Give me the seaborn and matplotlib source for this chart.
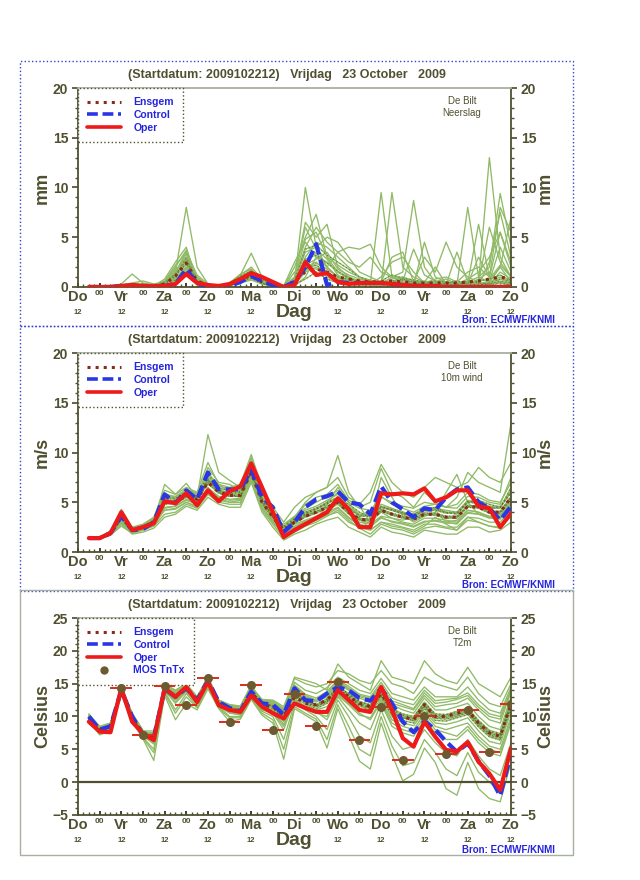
#!/usr/bin/env python3
"""
Pluimgrafiek De Bilt: ECMWF ensemble (neerslag, 10m wind, T2m), start 2009102212.
Schrijft out.png (640x880).
"""
import pandas as pd
import seaborn as sns
import matplotlib.pyplot as plt
import matplotlib.transforms as mtransforms
from matplotlib.patches import Rectangle
from matplotlib.lines import Line2D

sns.set_theme(style="white")
plt.rcParams['font.family'] = ['Liberation Sans', 'DejaVu Sans']

# ---- data ----
uren = list(range(6, 241, 6))
dagen = ['Do', 'Vr', 'Za', 'Zo', 'Ma', 'Di', 'Wo', 'Do', 'Vr', 'Za', 'Zo']

# Neerslag (mm)
neerslag_oper = [0, 0, 0, 0.1, 0.2, 0.1, 0.1, 0.1, 0.3, 1.3, 0.4, 0.2, 0.1, 0.3, 0.8, 1.4, 1.0, 0.5, 0.0, 0.2,
                 2.5, 1.2, 1.4, 0.5, 0.3, 0.4, 0.4, 0.4, 0.3, 0.2, 0.1, 0.1, 0.1, 0, 0, 0, 0, 0, 0, 0]
neerslag_control = [0, 0, 0, 0.1, 0.1, 0.1, 0, 0.1, 0.3, 1.8, 0.3, 0.1, 0, 0.1, 0.5, 1.1, 0.6, 0.2, 0, 0.5,
                    2.0, 4.3, 0.2, 0.5, 0.4, 0.4, 0.4, 0.4, 0.3, 0.2, 0.1, 0.1, 0.1, 0, 0, 0, 0, 0, 0, 0]
neerslag_ensgem = [0, 0, 0, 0.1, 0.2, 0.1, 0.1, 0.3, 1.1, 2.4, 0.6, 0.2, 0.1, 0.2, 0.7, 1.2, 0.5, 0.2, 0, 0.6,
                   1.5, 1.8, 1.5, 1.0, 0.8, 0.6, 0.5, 0.5, 0.6, 0.5, 0.4, 0.4, 0.4, 0.4, 0.4, 0.5, 0.6, 0.8, 1.0, 0.8]
neerslag_leden = [
    [0, 0, 0, 0.2, 0.1, 0, 0, 0.3, 1.5, 8.0, 2.0, 0.3, 0.1, 0.2, 0.5, 1.0, 0.4, 0.1, 0, 0.5, 10.0, 4.0, 2.0, 1.0, 0.5, 0.3, 0.2, 0.1, 0.5, 1.0, 0.3, 0.2, 0.1, 0.5, 0.3, 0.2, 0.8, 1.5, 0.4, 0.2],
    [0, 0, 0.1, 0.3, 1.3, 0.4, 0.2, 0.5, 2.0, 3.7, 1.0, 0.2, 0.1, 0.3, 1.0, 1.5, 0.8, 0.2, 0, 2.0, 5.0, 7.3, 3.0, 1.5, 0.8, 0.5, 0.4, 9.5, 1.0, 0.5, 0.3, 0.2, 0.4, 0.2, 0.1, 0.3, 0.5, 13.0, 3.0, 1.0],
    [0, 0, 0, 0.1, 0.3, 0.2, 0.1, 0.8, 2.5, 4.0, 0.5, 0.1, 0, 0.2, 1.2, 3.4, 1.0, 0.3, 0.1, 1.0, 6.5, 5.0, 6.3, 2.0, 1.0, 0.6, 0.2, 0.3, 9.5, 2.0, 1.0, 0.5, 2.0, 0.3, 0.2, 0.5, 1.0, 2.0, 9.4, 4.0],
    [0, 0, 0, 0, 0.2, 0.1, 0, 0.2, 1.0, 3.0, 0.8, 0.2, 0.1, 0.4, 1.3, 1.8, 0.6, 0.2, 0, 0.3, 3.0, 4.5, 4.0, 3.0, 2.0, 1.0, 0.5, 0.3, 1.0, 1.5, 8.7, 2.0, 0.5, 0.3, 0.2, 8.0, 1.0, 0.5, 2.0, 0.5],
    [0, 0, 0, 0.2, 0.4, 0.6, 0.3, 0.5, 1.8, 2.5, 0.6, 0.2, 0.1, 0.2, 0.7, 1.2, 0.5, 0.1, 0, 0.8, 4.0, 6.0, 4.5, 3.5, 4.0, 3.8, 4.3, 2.0, 1.0, 0.8, 0.5, 3.0, 1.5, 4.5, 2.0, 1.0, 0.5, 6.0, 2.5, 1.0],
    [0, 0, 0, 0.1, 0.2, 0.1, 0.1, 0.4, 1.2, 2.2, 0.4, 0.1, 0.1, 0.3, 1.0, 1.3, 0.5, 0.2, 0, 0.4, 2.5, 3.5, 2.0, 1.0, 0.5, 0.8, 0.5, 0.5, 0.8, 1.0, 0.6, 0.4, 0.8, 1.0, 0.5, 1.5, 2.0, 1.0, 8.0, 5.5],
    [0, 0, 0, 0.1, 0.1, 0.1, 0, 0.2, 0.8, 1.5, 0.3, 0.1, 0, 0.1, 0.5, 0.8, 0.3, 0.1, 0, 0.2, 1.5, 2.0, 1.0, 0.5, 0.3, 0.2, 0.3, 0.2, 0.1, 0.2, 0.4, 0.3, 0.2, 0.4, 0.5, 0.3, 0.2, 2.5, 7.5, 3.0],
    [0, 0, 0, 0.1, 0.2, 0.2, 0.1, 0.3, 1.5, 3.3, 0.7, 0.2, 0.1, 0.4, 1.2, 2.0, 0.8, 0.3, 0.1, 2.5, 4.5, 3.0, 2.5, 1.5, 1.0, 0.5, 0.3, 0.2, 0.3, 0.5, 0.3, 0.2, 0.5, 0.8, 0.3, 0.4, 6.3, 1.0, 0.5, 0.3],
    [0, 0, 0, 0, 0.1, 0, 0, 0.1, 0.6, 1.8, 0.2, 0.1, 0, 0.2, 0.6, 1.1, 0.4, 0.1, 0, 0.1, 1.0, 3.0, 2.0, 3.5, 2.5, 2.0, 3.0, 1.5, 1.0, 0.5, 0.3, 0.2, 0.1, 0.3, 0.5, 0.2, 0.1, 0.5, 1.0, 0.5],
    [0, 0, 0, 0.2, 0.3, 0.2, 0.1, 0.6, 2.2, 3.5, 1.2, 0.3, 0.1, 0.3, 0.8, 1.5, 0.6, 0.2, 0, 0.6, 3.5, 4.0, 5.0, 4.5, 3.0, 1.5, 1.0, 0.5, 3.0, 3.5, 0.5, 0.3, 0.2, 0.3, 0.4, 0.3, 3.0, 1.0, 5.5, 2.0],
    [0, 0, 0, 0.1, 0.1, 0.1, 0, 0.2, 0.7, 1.2, 0.3, 0.1, 0, 0.2, 0.5, 0.9, 0.3, 0.1, 0, 0.2, 0.8, 1.5, 0.8, 0.4, 0.3, 0.2, 0.2, 0.3, 0.2, 0.1, 0.2, 0.3, 0.2, 0.1, 0.2, 0.1, 0.3, 0.2, 0.4, 0.2],
    [0, 0, 0, 0.1, 0.2, 0.1, 0.1, 0.3, 1.0, 2.8, 0.5, 0.2, 0.1, 0.2, 0.9, 1.4, 0.5, 0.1, 0, 1.5, 2.0, 2.5, 1.5, 0.8, 0.6, 0.4, 0.3, 1.0, 2.5, 3.0, 1.5, 0.4, 0.3, 0.2, 3.5, 0.5, 0.3, 0.2, 1.5, 0.8],
    [0, 0, 0, 0, 0.1, 0.1, 0, 0.2, 0.9, 2.0, 0.3, 0.1, 0, 0.2, 0.4, 0.7, 0.3, 0.1, 0, 0.3, 2.0, 1.8, 1.2, 0.8, 0.5, 0.3, 0.2, 0.4, 0.3, 0.2, 0.5, 0.6, 0.4, 0.2, 0.1, 0.3, 0.2, 0.5, 2.0, 7.0],
    [0, 0, 0, 0.2, 0.3, 0.3, 0.2, 0.5, 1.3, 2.6, 0.6, 0.2, 0.1, 0.3, 1.1, 1.6, 0.7, 0.2, 0.1, 0.7, 3.8, 4.2, 3.2, 2.5, 1.8, 1.0, 0.6, 0.4, 0.5, 0.7, 0.4, 0.3, 0.6, 0.5, 0.3, 0.4, 0.6, 0.8, 1.2, 0.6],
    [0, 0, 0, 0.1, 0.2, 0.1, 0.1, 0.3, 1.1, 2.4, 0.5, 0.2, 0, 0.2, 0.7, 1.1, 0.4, 0.1, 0, 0.4, 1.8, 2.2, 1.4, 1.0, 0.8, 0.6, 0.4, 0.6, 1.2, 0.9, 0.7, 0.5, 0.4, 0.3, 0.2, 0.6, 0.4, 0.3, 0.6, 0.4],
    [0, 0, 0, 0.1, 0.2, 0.2, 0.1, 0.4, 1.6, 3.0, 0.8, 0.2, 0.1, 0.3, 0.9, 1.2, 0.5, 0.2, 0, 0.9, 6.0, 3.8, 2.8, 1.2, 0.6, 0.4, 0.3, 0.2, 0.3, 0.4, 0.2, 0.2, 0.3, 0.2, 0.3, 0.2, 0.4, 0.3, 0.5, 0.3],
    [0, 0, 0, 0.1, 0.1, 0.1, 0, 0.2, 0.7, 1.6, 0.4, 0.1, 0, 0.1, 0.6, 1.0, 0.4, 0.1, 0, 0.5, 2.2, 2.8, 3.5, 1.8, 1.2, 0.8, 0.6, 0.3, 0.4, 0.3, 0.2, 4.5, 1.0, 0.5, 0.3, 0.2, 0.3, 0.6, 4.0, 1.5],
    [0, 0, 0, 0.1, 0.2, 0.1, 0.1, 0.3, 1.2, 2.9, 0.6, 0.2, 0.1, 0.2, 0.8, 1.3, 0.5, 0.1, 0, 0.3, 2.8, 3.2, 2.4, 1.6, 0.9, 0.5, 0.3, 0.4, 0.6, 0.8, 0.5, 0.3, 0.2, 0.4, 0.6, 0.3, 0.2, 0.4, 0.8, 0.5],
    [0, 0, 0, 0.1, 0.3, 0.2, 0.1, 0.3, 1.4, 3.6, 0.9, 0.2, 0.1, 0.3, 1.0, 1.7, 0.6, 0.2, 0, 0.8, 4.8, 5.5, 3.0, 2.2, 1.5, 1.0, 0.7, 0.5, 0.4, 0.6, 3.8, 1.2, 0.6, 0.4, 0.3, 0.8, 1.5, 3.0, 5.5, 2.5],
    [0, 0, 0, 0.1, 0.2, 0.1, 0.1, 0.2, 0.8, 1.9, 0.4, 0.1, 0, 0.2, 0.6, 1.0, 0.4, 0.1, 0, 0.4, 1.6, 2.4, 1.8, 1.0, 0.7, 0.5, 0.4, 0.3, 0.2, 0.3, 0.4, 0.3, 0.2, 0.3, 0.2, 0.4, 0.6, 0.8, 2.2, 1.0],
]

# 10m wind (m/s)
wind_oper = [1.4, 1.4, 1.9, 4.0, 2.2, 2.5, 2.9, 5.1, 4.9, 5.9, 4.7, 6.2, 5.1, 6.1, 6.6, 8.9, 6.5, 4.0, 1.5, 2.2,
             2.8, 3.4, 4.0, 5.4, 4.3, 2.5, 2.5, 5.9, 5.8, 5.9, 5.8, 6.4, 5.1, 5.5, 6.2, 6.2, 4.6, 4.4, 2.5, 3.9]
wind_control = [1.4, 1.4, 1.9, 3.6, 2.2, 2.3, 3.0, 5.8, 4.9, 6.2, 5.3, 8.0, 6.3, 6.3, 6.3, 8.3, 5.5, 4.5, 2.0, 3.0,
                4.5, 5.3, 5.6, 6.1, 5.0, 4.8, 3.8, 6.6, 5.0, 4.3, 3.5, 4.4, 4.2, 5.5, 6.3, 6.5, 5.0, 4.4, 3.2, 4.6]
wind_ensgem = [1.4, 1.4, 1.9, 3.5, 2.2, 2.5, 3.0, 5.0, 5.0, 5.7, 5.3, 7.0, 6.0, 5.7, 5.7, 8.0, 5.0, 3.5, 2.2, 3.0,
               3.6, 4.0, 4.5, 5.0, 4.0, 3.3, 3.2, 4.2, 3.8, 3.5, 3.3, 3.8, 3.8, 3.5, 3.5, 4.6, 4.5, 4.0, 4.0, 5.5]
wind_leden = [
    [1.3, 1.4, 1.8, 3.2, 2.0, 2.3, 2.8, 4.5, 4.6, 5.2, 4.8, 6.5, 5.5, 5.2, 5.3, 7.5, 4.5, 3.0, 1.8, 2.5, 3.0, 3.5, 4.0, 4.5, 3.5, 2.8, 2.5, 3.5, 3.0, 2.8, 2.5, 3.0, 3.2, 3.0, 2.8, 4.0, 3.8, 3.5, 3.3, 5.0],
    [1.5, 1.5, 2.0, 3.8, 2.4, 2.7, 3.2, 5.5, 5.4, 6.2, 5.8, 7.6, 6.4, 6.2, 6.0, 8.5, 5.6, 4.0, 2.6, 3.5, 4.2, 4.6, 5.2, 5.8, 4.6, 3.8, 3.8, 4.8, 4.4, 4.0, 3.8, 4.4, 4.4, 4.2, 4.0, 5.2, 5.0, 4.6, 4.6, 6.2],
    [1.4, 1.3, 1.9, 3.4, 2.1, 2.6, 3.1, 6.8, 5.8, 6.9, 5.5, 11.8, 8.0, 7.2, 6.5, 9.5, 6.0, 4.2, 2.0, 3.5, 5.0, 6.0, 6.5, 9.7, 6.0, 4.5, 5.0, 8.4, 6.0, 5.5, 4.5, 6.0, 5.0, 4.5, 5.5, 8.0, 7.0, 6.5, 6.0, 13.0],
    [1.3, 1.3, 1.7, 2.8, 1.8, 2.0, 2.4, 3.5, 3.8, 4.6, 4.2, 5.5, 4.8, 4.5, 4.5, 7.0, 4.0, 2.5, 1.2, 1.8, 2.2, 2.8, 3.2, 3.5, 2.5, 2.0, 1.5, 2.5, 2.0, 1.8, 1.5, 2.2, 2.0, 1.8, 1.8, 2.5, 2.5, 2.0, 2.2, 3.0],
    [1.4, 1.5, 2.1, 4.3, 2.5, 2.8, 3.5, 6.2, 5.8, 6.5, 6.0, 9.0, 6.8, 6.5, 6.8, 9.8, 6.5, 4.5, 3.0, 4.5, 5.5, 6.0, 6.5, 7.5, 5.5, 4.8, 6.0, 8.8, 7.0, 6.0, 5.5, 6.5, 7.5, 7.0, 6.5, 7.0, 8.5, 7.5, 7.0, 9.0],
    [1.4, 1.4, 1.9, 3.6, 2.3, 2.4, 2.9, 5.2, 4.8, 5.5, 5.0, 7.2, 6.2, 5.8, 5.5, 8.2, 5.2, 3.6, 2.4, 3.2, 3.8, 4.3, 5.0, 5.5, 4.8, 4.0, 3.5, 4.5, 4.2, 3.8, 3.6, 4.2, 4.5, 4.0, 3.8, 5.0, 5.2, 4.8, 4.5, 6.0],
    [1.5, 1.4, 2.0, 3.3, 2.2, 2.5, 2.9, 4.8, 5.2, 5.8, 5.5, 6.8, 6.3, 5.9, 5.8, 7.8, 5.3, 3.8, 2.1, 2.8, 3.2, 3.6, 4.2, 4.8, 3.8, 3.0, 2.8, 3.6, 3.4, 3.0, 2.8, 3.4, 3.4, 3.2, 3.0, 4.2, 4.0, 3.6, 3.8, 5.2],
    [1.3, 1.4, 1.8, 3.0, 2.1, 2.6, 3.3, 5.9, 5.5, 6.0, 5.6, 8.5, 7.0, 6.8, 6.2, 8.8, 5.5, 3.2, 1.6, 2.2, 2.8, 3.2, 4.8, 6.5, 5.0, 3.5, 2.2, 3.0, 2.6, 2.4, 2.0, 2.6, 3.5, 2.8, 2.2, 3.5, 3.0, 2.6, 2.5, 4.0],
    [1.4, 1.5, 2.0, 3.7, 2.2, 2.4, 3.0, 4.2, 4.4, 5.0, 4.6, 6.0, 5.4, 5.0, 5.0, 7.6, 4.8, 3.4, 2.8, 3.6, 4.4, 5.0, 5.6, 6.2, 5.0, 4.4, 4.2, 5.5, 5.0, 4.6, 4.4, 5.0, 4.8, 4.5, 4.8, 6.0, 5.8, 5.2, 5.0, 7.0],
    [1.4, 1.4, 1.9, 3.5, 2.3, 2.6, 3.1, 5.3, 5.1, 5.9, 5.4, 7.4, 6.0, 5.6, 5.6, 8.1, 5.1, 3.6, 2.3, 3.1, 3.7, 4.1, 4.6, 5.1, 4.1, 3.4, 3.3, 4.3, 3.9, 3.6, 3.4, 3.9, 3.9, 3.6, 3.6, 4.7, 4.6, 4.1, 4.1, 5.6],
    [1.3, 1.3, 1.7, 2.6, 1.9, 2.2, 2.6, 3.8, 4.0, 4.8, 4.4, 5.8, 5.0, 4.8, 4.8, 7.2, 4.2, 2.8, 1.4, 2.0, 2.6, 3.0, 3.6, 4.2, 3.2, 2.4, 1.8, 2.8, 2.4, 2.2, 1.8, 2.4, 2.6, 2.4, 2.2, 3.2, 3.0, 2.6, 2.4, 3.6],
    [1.5, 1.5, 2.1, 4.0, 2.4, 2.7, 3.4, 5.7, 5.6, 6.3, 5.9, 8.0, 6.6, 6.4, 6.4, 9.2, 5.8, 4.2, 2.5, 3.4, 4.0, 4.4, 5.0, 6.0, 4.5, 3.6, 4.0, 5.6, 4.8, 4.4, 4.0, 4.6, 4.8, 4.5, 4.4, 5.6, 5.5, 5.0, 4.8, 7.5],
    [1.4, 1.4, 1.8, 3.3, 2.2, 2.5, 3.0, 4.8, 4.9, 5.6, 5.2, 6.9, 5.9, 5.6, 5.6, 7.9, 4.9, 3.4, 2.1, 2.9, 3.5, 3.9, 4.4, 4.9, 3.9, 3.2, 3.1, 4.1, 3.7, 3.4, 3.2, 3.7, 3.7, 3.4, 3.4, 4.5, 4.4, 3.9, 3.9, 5.4],
    [1.4, 1.4, 2.0, 3.9, 2.3, 2.4, 2.8, 5.0, 5.2, 6.0, 5.2, 7.8, 6.8, 6.0, 5.9, 8.4, 5.5, 4.0, 2.0, 3.3, 4.8, 5.5, 5.8, 6.8, 5.2, 4.6, 3.0, 4.0, 3.4, 3.2, 3.6, 4.0, 4.2, 3.0, 3.2, 4.2, 4.0, 3.5, 3.6, 5.0],
    [1.3, 1.4, 1.8, 3.1, 2.0, 2.3, 2.8, 4.4, 4.6, 5.3, 4.9, 6.4, 5.6, 5.3, 5.4, 7.6, 4.6, 3.1, 1.9, 2.6, 3.1, 3.4, 3.8, 4.4, 3.4, 2.7, 2.6, 3.4, 3.1, 2.9, 2.6, 3.1, 3.1, 2.9, 2.9, 3.9, 3.8, 3.4, 3.4, 4.8],
    [1.5, 1.5, 2.0, 3.6, 2.3, 2.6, 3.1, 5.4, 5.3, 5.9, 5.5, 7.3, 6.2, 5.9, 6.0, 8.3, 5.2, 3.8, 2.6, 3.4, 4.0, 4.4, 4.9, 5.4, 4.4, 3.7, 3.7, 4.6, 4.3, 4.0, 3.8, 4.3, 4.3, 4.0, 4.0, 5.1, 5.0, 4.5, 4.5, 6.0],
    [1.4, 1.4, 1.9, 3.4, 2.2, 2.6, 3.0, 5.0, 5.0, 5.5, 5.3, 7.1, 6.1, 5.8, 5.7, 8.6, 5.0, 3.3, 2.2, 3.0, 3.6, 4.0, 4.5, 5.3, 4.0, 3.2, 2.9, 7.5, 5.5, 3.8, 3.0, 3.6, 4.0, 6.0, 7.8, 5.0, 3.8, 3.5, 3.6, 5.3],
    [1.3, 1.3, 1.7, 2.9, 1.9, 2.2, 2.7, 4.2, 4.3, 5.0, 4.5, 6.2, 5.2, 5.0, 5.2, 7.4, 4.4, 3.0, 1.7, 2.4, 3.0, 3.2, 3.7, 4.0, 3.0, 2.5, 2.2, 3.0, 2.8, 2.5, 2.2, 2.8, 2.8, 2.5, 2.5, 3.5, 3.4, 3.0, 3.0, 4.3],
    [1.4, 1.5, 2.0, 3.8, 2.3, 2.6, 3.2, 5.6, 5.4, 6.1, 5.6, 7.8, 6.4, 6.2, 6.1, 8.7, 5.4, 3.9, 2.5, 3.3, 3.9, 4.3, 4.8, 5.5, 4.4, 3.6, 3.6, 4.5, 4.2, 3.9, 3.6, 4.2, 4.2, 3.9, 3.9, 5.0, 4.9, 4.4, 4.4, 6.5],
    [1.4, 1.4, 1.9, 3.5, 2.2, 2.5, 3.0, 5.1, 5.0, 5.7, 5.3, 7.0, 6.0, 5.7, 5.7, 8.0, 5.0, 3.5, 2.2, 3.0, 3.6, 4.0, 4.5, 5.0, 4.0, 3.3, 3.2, 4.2, 3.8, 3.5, 3.3, 3.8, 3.8, 3.5, 3.5, 4.6, 4.5, 4.0, 4.0, 5.5],
]

# T2m (Celsius)
temp_oper = [9.2, 7.7, 7.6, 14.3, 9.2, 7.4, 6.4, 14.3, 13.0, 14.5, 12.2, 15.3, 11.7, 11.0, 10.7, 13.2, 11.5, 10.5, 9.7, 12.0,
             11.3, 10.7, 10.7, 14.0, 12.5, 11.0, 10.7, 14.5, 11.0, 6.7, 5.4, 9.2, 6.9, 4.9, 4.7, 6.1, 3.1, 1.3, -1.2, 5.2]
temp_control = [10.0, 8.0, 8.5, 14.0, 10.0, 7.2, 6.8, 14.2, 13.0, 14.3, 12.5, 15.5, 12.2, 11.3, 10.8, 13.8, 12.0, 11.8, 10.3, 14.3,
                12.5, 12.3, 13.5, 14.5, 14.0, 12.8, 12.4, 14.3, 12.0, 9.2, 7.6, 9.3, 8.0, 6.2, 4.6, 5.9, 3.2, 1.0, -2.1, 4.4]
temp_ensgem = [9.8, 8.0, 8.5, 14.0, 10.0, 7.3, 6.8, 14.2, 13.0, 14.3, 12.4, 15.4, 12.0, 11.2, 10.8, 13.7, 11.8, 11.5, 10.0, 13.0,
               12.0, 11.8, 12.5, 14.3, 13.0, 12.0, 11.5, 13.5, 11.0, 10.0, 9.5, 11.8, 10.0, 10.0, 10.5, 10.9, 9.0, 7.5, 7.0, 12.0]
temp_leden = [
    [9.6, 7.6, 8.2, 13.8, 9.8, 7.0, 6.2, 14.0, 12.5, 14.0, 12.0, 15.2, 11.8, 10.8, 10.4, 13.2, 11.2, 10.6, 8.5, 12.8, 11.5, 10.8, 10.5, 13.2, 11.8, 10.2, 9.8, 12.5, 9.5, 8.5, 8.0, 10.5, 8.5, 8.0, 8.5, 9.0, 7.0, 5.5, 5.0, 10.0],
    [10.0, 8.3, 8.8, 14.3, 10.2, 7.6, 7.4, 14.4, 13.5, 14.5, 12.7, 15.6, 12.3, 11.6, 11.2, 14.2, 12.3, 12.2, 11.0, 14.8, 13.2, 12.5, 13.4, 15.5, 14.3, 13.2, 12.8, 14.8, 12.0, 11.5, 11.0, 13.2, 11.5, 11.8, 12.0, 12.8, 11.0, 9.5, 9.0, 13.8],
    [10.4, 8.5, 9.0, 14.5, 10.5, 7.9, 6.5, 15.0, 14.0, 15.0, 13.0, 16.0, 12.5, 11.8, 11.6, 14.8, 12.0, 12.0, 11.0, 16.0, 15.5, 15.0, 14.0, 18.0, 16.0, 15.0, 14.0, 18.5, 16.0, 15.5, 15.0, 18.5, 16.5, 15.5, 15.0, 17.5, 15.0, 14.0, 13.0, 16.0],
    [9.4, 7.2, 7.8, 13.3, 9.2, 6.6, 3.3, 13.2, 9.5, 12.0, 11.0, 14.2, 11.2, 9.2, 9.6, 12.6, 10.2, 9.0, 3.5, 11.2, 10.2, 9.2, 5.2, 11.2, 7.2, 3.2, 2.0, 9.0, 4.2, 0.2, 1.2, 5.2, 3.0, -1.0, -2.0, 3.0, -1.0, -2.5, -3.0, 3.0],
    [9.8, 8.1, 8.6, 14.1, 10.1, 7.4, 7.0, 14.3, 13.2, 14.4, 12.5, 15.5, 12.1, 11.3, 10.9, 13.8, 11.9, 11.7, 10.2, 14.0, 12.5, 11.8, 12.7, 14.6, 13.5, 12.3, 11.8, 13.8, 11.2, 10.4, 10.0, 12.2, 10.4, 10.3, 10.8, 11.3, 9.4, 7.9, 7.4, 12.4],
    [9.7, 7.8, 8.4, 13.9, 9.9, 7.2, 6.6, 14.1, 12.8, 14.2, 12.2, 15.3, 11.9, 11.0, 10.6, 13.5, 11.6, 11.2, 9.6, 13.5, 12.0, 11.2, 12.0, 13.9, 12.8, 11.6, 11.0, 13.0, 10.2, 9.4, 9.0, 11.2, 9.4, 9.3, 9.8, 10.3, 8.4, 6.9, 6.4, 11.4],
    [10.2, 8.4, 8.9, 14.4, 10.4, 7.8, 7.2, 14.6, 13.8, 14.8, 12.9, 15.8, 12.4, 11.7, 11.4, 14.5, 12.4, 12.4, 11.2, 15.2, 14.0, 13.5, 14.4, 16.0, 15.0, 14.0, 13.5, 15.8, 13.5, 13.0, 12.5, 14.5, 13.0, 13.0, 13.0, 14.5, 12.5, 11.0, 10.5, 14.5],
    [9.5, 7.5, 8.0, 13.5, 9.5, 6.8, 5.0, 13.8, 11.0, 13.5, 11.5, 14.8, 11.5, 10.0, 10.0, 13.0, 10.8, 10.0, 6.5, 12.0, 11.0, 10.0, 8.0, 12.5, 10.0, 7.0, 6.0, 11.0, 7.0, 5.0, 5.5, 8.0, 6.0, 4.5, 4.0, 6.5, 4.0, 2.0, 1.0, 6.0],
    [9.9, 8.0, 8.6, 14.0, 10.0, 7.4, 6.9, 14.2, 13.1, 14.3, 12.4, 15.4, 12.0, 11.2, 10.8, 13.8, 11.8, 11.6, 10.1, 13.6, 12.2, 11.5, 12.3, 14.2, 13.0, 11.8, 11.3, 13.4, 10.6, 9.8, 9.4, 11.6, 9.8, 9.8, 10.2, 10.7, 8.8, 7.3, 6.8, 11.8],
    [10.1, 8.2, 8.7, 14.2, 10.1, 7.5, 7.2, 14.3, 13.4, 14.4, 12.6, 15.5, 12.2, 11.4, 11.0, 14.0, 12.1, 11.9, 10.6, 14.4, 12.8, 12.2, 13.0, 15.0, 14.0, 12.8, 12.2, 14.2, 11.8, 11.0, 10.5, 12.8, 11.0, 11.0, 11.5, 12.0, 10.0, 8.5, 8.0, 13.0],
    [9.6, 7.7, 8.3, 13.7, 9.7, 7.1, 5.8, 14.0, 12.0, 13.8, 11.8, 15.0, 11.6, 10.5, 10.3, 13.4, 11.0, 10.5, 8.0, 12.5, 11.5, 10.8, 9.5, 13.0, 11.0, 9.0, 8.0, 12.0, 8.5, 7.5, 7.0, 9.5, 7.5, 6.5, 6.5, 8.0, 6.0, 4.5, 4.0, 9.0],
    [10.0, 8.2, 8.8, 14.2, 10.3, 7.6, 7.5, 14.5, 13.6, 14.6, 12.8, 15.7, 12.3, 11.5, 11.1, 14.1, 12.2, 12.1, 10.8, 14.6, 13.0, 12.4, 13.2, 15.2, 14.2, 13.0, 12.6, 14.6, 12.4, 11.8, 11.2, 13.6, 12.0, 12.2, 12.6, 13.2, 11.4, 10.0, 9.6, 14.0],
    [9.8, 7.9, 8.5, 13.9, 9.9, 7.3, 6.7, 14.1, 12.9, 14.2, 12.3, 15.3, 11.9, 11.1, 10.7, 13.6, 11.7, 11.4, 9.8, 13.7, 12.2, 11.5, 12.2, 14.1, 13.0, 11.8, 11.2, 13.2, 10.6, 9.8, 9.3, 11.5, 9.7, 9.6, 10.0, 10.6, 8.6, 7.1, 6.6, 11.6],
    [9.9, 8.1, 8.6, 14.1, 10.1, 7.4, 7.0, 14.3, 13.1, 14.4, 12.5, 15.5, 12.1, 11.3, 10.9, 13.8, 11.9, 11.7, 10.3, 14.0, 12.5, 11.8, 12.6, 14.5, 13.4, 12.2, 11.7, 13.7, 11.0, 10.2, 9.8, 12.0, 10.2, 10.2, 10.6, 11.1, 9.2, 7.7, 7.2, 12.2],
    [10.3, 8.4, 9.0, 14.6, 10.5, 7.8, 7.8, 14.8, 14.0, 14.9, 13.0, 16.0, 12.5, 11.8, 11.5, 14.6, 12.6, 12.5, 11.5, 15.8, 15.0, 14.5, 15.0, 17.0, 16.5, 15.5, 15.0, 17.0, 15.0, 14.5, 13.5, 16.0, 15.0, 14.5, 14.0, 16.0, 13.5, 12.0, 11.5, 15.0],
    [9.5, 7.4, 7.9, 13.4, 9.4, 6.7, 4.5, 13.5, 10.5, 13.0, 11.3, 14.5, 11.3, 9.8, 9.8, 12.8, 10.5, 9.5, 5.0, 11.5, 10.5, 9.6, 6.5, 11.8, 8.5, 5.0, 4.0, 10.0, 5.5, 2.5, 3.0, 6.5, 4.5, 2.0, 1.0, 4.5, 1.5, 0.0, -1.5, 4.5],
    [9.7, 7.8, 8.4, 13.8, 9.8, 7.2, 6.5, 14.0, 12.6, 14.1, 12.1, 15.2, 11.8, 10.9, 10.5, 13.4, 11.4, 11.0, 9.2, 13.2, 11.8, 11.0, 11.5, 13.6, 12.4, 11.0, 10.5, 12.8, 10.0, 9.0, 8.6, 10.8, 9.0, 8.8, 9.2, 9.8, 7.8, 6.2, 5.8, 10.8],
    [10.1, 8.3, 8.8, 14.3, 10.3, 7.6, 7.3, 14.4, 13.5, 14.5, 12.7, 15.6, 12.3, 11.6, 11.2, 14.2, 12.3, 12.2, 11.0, 14.8, 13.4, 12.8, 13.8, 15.6, 14.6, 13.4, 13.0, 15.2, 12.8, 12.2, 11.8, 14.0, 12.4, 12.6, 12.8, 13.6, 11.8, 10.4, 10.0, 14.2],
    [9.8, 8.0, 8.5, 14.0, 10.0, 7.3, 6.8, 14.2, 13.0, 14.3, 12.4, 15.4, 12.0, 11.2, 10.8, 13.7, 11.8, 11.5, 10.0, 13.8, 12.3, 11.6, 12.4, 14.3, 13.2, 12.0, 11.5, 13.5, 10.8, 10.0, 9.6, 11.8, 10.0, 10.0, 10.4, 10.9, 9.0, 7.5, 7.0, 12.0],
    [9.6, 7.5, 8.1, 13.6, 9.6, 6.9, 6.0, 13.9, 12.2, 13.9, 11.9, 15.1, 11.7, 10.6, 10.2, 13.3, 11.1, 10.8, 8.8, 12.6, 11.2, 10.5, 10.0, 13.4, 12.0, 10.5, 9.5, 12.2, 9.0, 8.0, 7.5, 10.0, 8.0, 7.5, 7.0, 8.5, 6.5, 5.0, 4.5, 9.5],
]

# MOS TnTx (min/max temperatuur)
mos_uren = [24, 36, 48, 60, 72, 84, 96, 108, 120, 132, 144, 156, 168, 180, 192, 204, 216, 228, 240]
mos_temp = [14.4, 7.2, 14.6, 11.8, 15.9, 9.2, 14.8, 8.0, 13.5, 8.5, 15.3, 6.4, 11.5, 3.3, 10.0, 4.3, 11.0, 4.6, 11.9]

# ---- stijl ----
TEKST = '#505030'
GROEN = '#8fba66'
DONKER = '#4f5a22'
ROOD = '#ee1a1a'
BLAUW = '#2a36e6'
ENSKLEUR = '#8a2c1a'
BRON = '#2424dd'
TITEL = '(Startdatum: 2009102212)   Vrijdag   23 October   2009'

fig = plt.figure(figsize=(6.4, 8.8), dpi=100)

# paneelkaders (figuurcoordinaten)
for y0, kleur, ls in [(0.6295, '#3344cc', ':'), (0.3284, '#3344cc', ':'), (0.0284, '#a8b0a0', '-')]:
    fig.patches.append(Rectangle((0.031, y0), 0.864, 0.3011, transform=fig.transFigure,
                                 fill=False, edgecolor=kleur, linestyle=ls, linewidth=1.0))

panelen = [
    dict(pos=[0.1219, 0.6739, 0.6766, 0.2261], leden=neerslag_leden, ens=neerslag_ensgem,
         ctrl=neerslag_control, oper=neerslag_oper, ylim=(0, 20), ystap=5, ylabel='mm',
         naam='Neerslag', mos=False, titel_y=0.915, bron_y=0.636, kern=[10, 13, 14, 17]),
    dict(pos=[0.1219, 0.3727, 0.6766, 0.2261], leden=wind_leden, ens=wind_ensgem,
         ctrl=wind_control, oper=wind_oper, ylim=(0, 20), ystap=5, ylabel='m/s',
         naam='10m wind', mos=False, titel_y=0.614, bron_y=0.335, kern=[5, 9, 12, 15, 18, 19]),
    dict(pos=[0.1219, 0.0739, 0.6766, 0.2238], leden=temp_leden, ens=temp_ensgem,
         ctrl=temp_control, oper=temp_oper, ylim=(-5, 25), ystap=5, ylabel='Celsius',
         naam='T2m', mos=True, titel_y=0.313, bron_y=0.034, kern=[4, 5, 8, 12, 13, 18]),
]

for p in panelen:
    ax = fig.add_axes(p['pos'])
    ax.set_facecolor('white')

    # ensembleleden
    rijen = []
    for k, lid in enumerate(p['leden']):
        for u, v in zip(uren, lid):
            rijen.append({'lid': k, 'uur': u, 'waarde': v})
    df = pd.DataFrame(rijen)
    sns.lineplot(data=df, x='uur', y='waarde', units='lid', estimator=None,
                 color=GROEN, linewidth=0.95, ax=ax, legend=False)
    kern = df[df['lid'].isin(p['kern'])]
    sns.lineplot(data=kern, x='uur', y='waarde', units='lid', estimator=None,
                 color=DONKER, linewidth=0.9, linestyle=(0, (1, 2)), alpha=0.6, ax=ax, legend=False)

    if p['mos']:
        ax.axhline(0, color=TEKST, linewidth=1.6, zorder=2)

    sns.lineplot(x=uren, y=p['ens'], color=ENSKLEUR, linewidth=2.2, linestyle=':', ax=ax, zorder=4)
    sns.lineplot(x=uren, y=p['ctrl'], color=BLAUW, linewidth=3.0, linestyle=(0, (3, 1.3)), ax=ax, zorder=5)
    sns.lineplot(x=uren, y=p['oper'], color=ROOD, linewidth=3.0, ax=ax, zorder=6)

    if p['mos']:
        ax.errorbar(mos_uren, mos_temp, xerr=6, fmt='o', color='#6e5a30', ecolor='#e02a1a',
                    elinewidth=1.4, capsize=0, markersize=5.5, zorder=7)

    # assen
    ax.set_xlim(0, 240)
    ax.set_ylim(*p['ylim'])
    ax.set_xlabel('')
    ax.set_ylabel('')
    ax.set_xticks(range(0, 241, 12))
    labels = [dagen[h // 24] if h % 24 == 0 else '00' for h in range(0, 241, 12)]
    ax.set_xticklabels(labels)
    for t in ax.get_xticklabels():
        if t.get_text() == '00':
            t.set_fontsize(6)
        else:
            t.set_fontsize(10.5)
        t.set_fontweight('bold')
        t.set_color(TEKST)
    ax.set_xticks(range(0, 241, 3), minor=True)
    ax.tick_params(axis='x', which='major', length=3, direction='in', pad=2, bottom=True)
    ax.tick_params(axis='x', which='minor', length=2, direction='in', bottom=True, color=TEKST)

    ymin, ymax = p['ylim']
    ax.set_yticks(range(ymin, ymax + 1, p['ystap']))
    ax.set_yticks(range(ymin, ymax + 1, 1), minor=True)
    ax.tick_params(axis='y', which='both', left=True, right=True, labelleft=True, labelright=True,
                   direction='out', color=TEKST)
    ax.tick_params(axis='y', which='major', length=4, pad=3, labelsize=10)
    ax.tick_params(axis='y', which='minor', length=2)
    for t in ax.get_yticklabels(which='major'):
        t.set_fontweight('bold')
        t.set_color(TEKST)

    for kant in ['left', 'right', 'bottom']:
        ax.spines[kant].set_color(TEKST)
        ax.spines[kant].set_linewidth(1.3)
    ax.spines['top'].set_color('#a8b0a0')
    ax.spines['top'].set_linewidth(1.3)

    # '12' onder de dagnamen (niet onder Di: daar staat 'Dag')
    trans = mtransforms.blended_transform_factory(ax.transData, ax.transAxes)
    for h in range(0, 241, 24):
        if h == 120:
            continue
        ax.text(h, -0.128, '12', transform=trans, fontsize=5.5, ha='center', va='center',
                color=TEKST, fontweight='bold')
    ax.text(0.5, -0.128, 'Dag', transform=ax.transAxes, fontsize=14, fontweight='bold',
            ha='center', va='center', color=TEKST)

    # y-labels links en rechts
    ax.text(-0.082, 0.5, p['ylabel'], transform=ax.transAxes, rotation=90, fontsize=13,
            fontweight='bold', ha='center', va='center', color=TEKST)
    ax.text(1.08, 0.5, p['ylabel'], transform=ax.transAxes, rotation=90, fontsize=13,
            fontweight='bold', ha='center', va='center', color=TEKST)

    # locatie en grootheid
    ax.text(0.887, 0.935, 'De Bilt', transform=ax.transAxes, fontsize=7, ha='center',
            va='center', color=TEKST)
    ax.text(0.887, 0.874, p['naam'], transform=ax.transAxes, fontsize=7, ha='center',
            va='center', color=TEKST)

    # legenda
    handles = [Line2D([], [], color=ENSKLEUR, linestyle=':', linewidth=2.2),
               Line2D([], [], color=BLAUW, linestyle=(0, (3, 1.3)), linewidth=2.6),
               Line2D([], [], color=ROOD, linewidth=2.6)]
    namen = ['Ensgem', 'Control', 'Oper']
    if p['mos']:
        handles.append(Line2D([], [], color='#6e5a30', marker='o', linestyle='none', markersize=5))
        namen.append('MOS TnTx')
    leg = ax.legend(handles, namen, loc='upper left', bbox_to_anchor=(0, 1), borderaxespad=0,
                    handlelength=3.2, labelspacing=0.25, borderpad=0.9,
                    handletextpad=1.2, fancybox=False, framealpha=1,
                    prop={'weight': 'bold', 'size': 7.5}, labelcolor=BRON)
    leg.get_frame().set_edgecolor(TEKST)
    leg.get_frame().set_linestyle(':')
    leg.get_frame().set_linewidth(1.0)

    fig.text(0.448, p['titel_y'], TITEL, fontsize=9, fontweight='bold', ha='center',
             va='center', color=TEKST)
    fig.text(0.867, p['bron_y'], 'Bron: ECMWF/KNMI', fontsize=7, fontweight='bold', ha='right',
             va='center', color=BRON)

fig.savefig('out.png', dpi=100)
